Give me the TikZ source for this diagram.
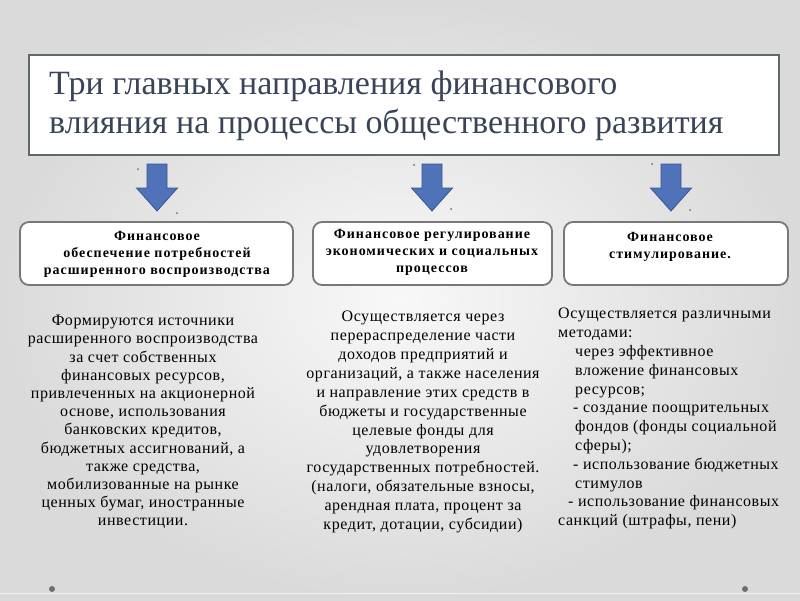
\documentclass[tikz,border=0pt]{standalone}
\usepackage{fontspec}
\setmainfont{Liberation Serif}
\newfontfamily\titlefont{Liberation Serif}
\newfontfamily\headfont[LetterSpace=7]{Liberation Serif}
\newfontfamily\bodyfont[LetterSpace=3.5]{Liberation Serif}
\definecolor{bgout}{RGB}{218,218,218}
\definecolor{bgin}{RGB}{248,248,248}
\definecolor{titlecol}{RGB}{58,68,88}
\definecolor{framecol}{RGB}{95,105,105}
\definecolor{boxframe}{RGB}{120,120,120}
\definecolor{arrowfill}{RGB}{79,114,184}
\definecolor{arrowline}{RGB}{55,85,145}
\definecolor{dotcol}{RGB}{110,110,110}
\tikzset{
  titlebox/.style={draw=framecol, line width=2pt, fill=white, minimum width=750pt, minimum height=100pt, inner sep=0pt},
  titletext/.style={anchor=north west, align=left, text=titlecol, font=\titlefont\fontsize{34}{39}\selectfont, inner sep=0pt},
  headbox/.style={draw=boxframe, line width=1.8pt, fill=white, rounded corners=9pt, minimum height=63pt, inner sep=0pt},
  headtext/.style={align=center, font=\headfont\bfseries\fontsize{14}{17}\selectfont, inner sep=0pt},
  bodytext/.style={align=center, font=\bodyfont\fontsize{16}{18.2}\selectfont, inner sep=0pt},
  bodytextb/.style={align=center, font=\bodyfont\fontsize{16}{18.9}\selectfont, inner sep=0pt},
  bodyleft/.style={align=left, font=\bodyfont\fontsize{16}{18.8}\selectfont, inner sep=0pt, anchor=north west},
  blockarrow/.style={fill=arrowfill, draw=arrowline, line width=0.8pt, line join=miter},
  tinydot/.style={circle, fill=dotcol, inner sep=0pt, minimum size=2pt},
  corner/.style={circle, fill=dotcol, inner sep=0pt, minimum size=6pt},
  downarrow/.pic={\path[blockarrow] (-10,0) -- (10,0) -- (10,24) -- (20.5,24) -- (0,47) -- (-20.5,24) -- (-10,24) -- cycle;}
}
\begin{document}
\begin{tikzpicture}[x=1pt,y=-1pt]
\useasboundingbox (0,0) rectangle (800,600);
\shade[inner color=bgin, outer color=bgout] (0,0) rectangle (800,600);
\draw[white!90!gray, line width=1pt] (0,593) -- (800,593);

% title
\node[titlebox] (title) at (404,105) {};
\node[titletext] (titletxt) at (49,71) {Три главных направления финансового\\влияния на процессы общественного развития};

% arrows
\pic (a1) at (157,164) {downarrow};
\pic (a2) at (432,164) {downarrow};
\pic (a3) at (671,164) {downarrow};
\node[tinydot] (d1) at (138,169) {};
\node[tinydot] (d2) at (177,213) {};
\node[tinydot] (d3) at (414,165) {};
\node[tinydot] (d4) at (451,209) {};
\node[tinydot] (d5) at (652,164) {};
\node[tinydot] (d6) at (690,210) {};

% heading boxes
\node[headbox, minimum width=273pt] (b1) at (156.5,253.5) {};
\node[headbox, minimum width=239pt] (b2) at (432.5,253.5) {};
\node[headbox, minimum width=224pt] (b3) at (676,253.5) {};
\node[headtext] (t1) at (157,254) {Финансовое\\обеспечение потребностей\\расширенного воспроизводства};
\node[headtext] (t2) at (432,252) {Финансовое регулирование\\экономических и социальных\\процессов};
\node[headtext] (t3) at (670,247) {Финансовое\\стимулирование.};

% body texts
\node[bodytext] (c1) at (143,422) {Формируются источники\\расширенного воспроизводства\\за счет собственных\\финансовых ресурсов,\\привлеченных на акционерной\\основе, использования\\банковских кредитов,\\бюджетных ассигнований, а\\также средства,\\мобилизованные на рынке\\ценных бумаг, иностранные\\инвестиции.};
\node[bodytextb] (c2) at (423,422) {Осуществляется через\\перераспределение части\\доходов предприятий и\\организаций, а также населения\\и направление этих средств в\\бюджеты и государственные\\целевые фонды для\\удовлетворения\\государственных потребностей.\\(налоги, обязательные взносы,\\арендная плата, процент за\\кредит, дотации, субсидии)};
\node[bodyleft] (c3) at (558,308) {Осуществляется различными\\методами:\\\hspace*{17pt}через эффективное\\\hspace*{17pt}вложение финансовых\\\hspace*{17pt}ресурсов;\\\hspace*{15pt}- создание поощрительных\\\hspace*{17pt}фондов (фонды социальной\\\hspace*{17pt}сферы);\\\hspace*{15pt}- использование бюджетных\\\hspace*{17pt}стимулов\\\hspace*{10pt}- использование финансовых\\санкций (штрафы, пени)};

% bottom dots
\node[corner] (k1) at (52,589) {};
\node[corner] (k2) at (745,589) {};
\end{tikzpicture}
\end{document}
